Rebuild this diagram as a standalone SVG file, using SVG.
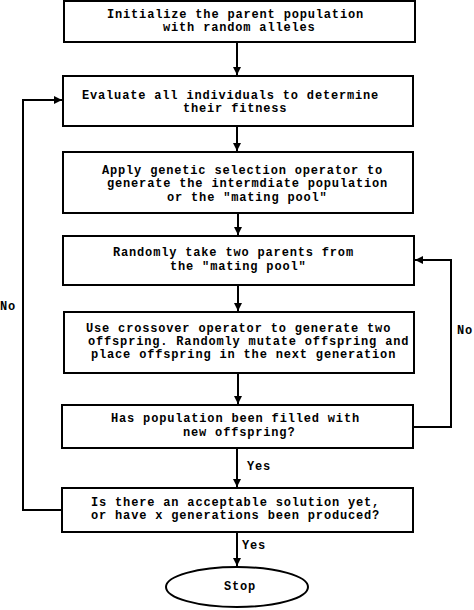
<svg xmlns="http://www.w3.org/2000/svg" width="474" height="610" viewBox="0 0 474 610">
<defs>
<marker id="ah" viewBox="0 0 10 10" refX="10" refY="5" markerWidth="8" markerHeight="8" markerUnits="userSpaceOnUse" orient="auto">
<path d="M0,0 L10,5 L0,10 z" fill="#000"/>
</marker>
<style>
.box{fill:#fff;stroke:#000;stroke-width:2}
.t{font-family:"Liberation Mono","Courier New",monospace;font-size:12px;letter-spacing:0.83px;font-weight:bold;fill:#000}
.c{fill:none;stroke:#000;stroke-width:2;marker-end:url(#ah)}
</style>
</defs>
<rect width="474" height="610" fill="#fff"/>
<g id="n1"><rect class="box" x="64" y="1" width="351" height="41"/>
<text class="t" x="107" y="18">Initialize the parent population</text>
<text class="t" x="163" y="31">with random alleles</text></g>
<g id="n2"><rect class="box" x="63" y="76" width="350" height="50"/>
<text class="t" x="82" y="99">Evaluate all individuals to determine</text>
<text class="t" x="183" y="112">their fitness</text></g>
<g id="n3"><rect class="box" x="63" y="152" width="350" height="61"/>
<text class="t" x="102" y="174">Apply genetic selection operator to</text>
<text class="t" x="107" y="187">generate the intermdiate population</text>
<text class="t" x="167" y="201">or the "mating pool"</text></g>
<g id="n4"><rect class="box" x="63" y="236" width="351" height="49"/>
<text class="t" x="113" y="256">Randomly take two parents from</text>
<text class="t" x="170" y="270">the "mating pool"</text></g>
<g id="n5"><rect class="box" x="64" y="312" width="350" height="61"/>
<text class="t" x="86" y="332">Use crossover operator to generate two</text>
<text class="t" x="88" y="345">offspring. Randomly mutate offspring and</text>
<text class="t" x="91" y="358">place offspring in the next generation</text></g>
<g id="n6"><rect class="box" x="62" y="405" width="351" height="43"/>
<text class="t" x="111" y="422">Has population been filled with</text>
<text class="t" x="183" y="436">new offspring?</text></g>
<g id="n7"><rect class="box" x="62" y="488" width="351" height="44"/>
<text class="t" x="91" y="506">Is there an acceptable solution yet,</text>
<text class="t" x="91" y="519">or have x generations been produced?</text></g>
<g id="n8"><ellipse cx="237" cy="587" rx="71" ry="20" fill="#fff" stroke="#000" stroke-width="2"/>
<text class="t" x="224" y="590">Stop</text></g>
<g id="connectors">
<path class="c" d="M237,42 V75"/>
<path class="c" d="M237,126 V151"/>
<path class="c" d="M238,213 V235"/>
<path class="c" d="M238,285 V311"/>
<path class="c" d="M238,373 V404"/>
<path class="c" d="M237,448 V487"/>
<path class="c" d="M237,532 V566"/>
<path class="c" d="M62,510 H23 V100 H62"/>
<path class="c" d="M413,427 H451 V260 H415"/>
<text class="t" x="247" y="470">Yes</text>
<text class="t" x="242" y="549">Yes</text>
<text class="t" x="0" y="310">No</text>
<text class="t" x="457" y="334">No</text>
</g>
</svg>
